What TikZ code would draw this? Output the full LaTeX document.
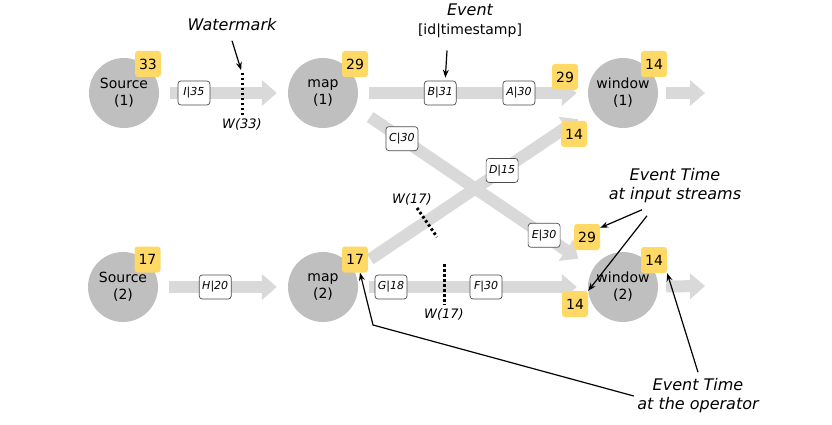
\documentclass[tikz,border=0pt]{standalone}
\usepackage{fontspec}
\setmainfont{DejaVu Sans}
\usetikzlibrary{arrows.meta, calc}

\definecolor{opgray}{HTML}{BFBFBF}
\definecolor{flowgray}{HTML}{D9D9D9}
\definecolor{tsyellow}{HTML}{FFD966}

\begin{document}
\begin{tikzpicture}[x=1pt, y=-1pt, >=Stealth,
	op/.style={circle, fill=opgray, minimum size=70pt, inner sep=0pt, align=center, font=\fontsize{14}{17}\selectfont},
	ts/.style={fill=tsyellow, rounded corners=3pt, minimum size=26pt, inner sep=0pt, font=\fontsize{14}{17}\selectfont},
	evt/.style={draw=black!70, fill=white, text=black, rounded corners=3pt, line width=.7pt, minimum width=32pt, minimum height=24pt, inner sep=1pt, font=\fontsize{11}{13}\selectfont\itshape},
	flow/.style={draw=flowgray, line width=12pt, -{Triangle[length=15pt, width=25pt]}, shorten <=11pt, shorten >=11pt},
	wm/.style={line width=3pt, dash pattern=on 2.5pt off 2.5pt},
	wmlbl/.style={inner sep=2pt, font=\fontsize{13}{15}\selectfont\itshape},
	note/.style={line width=1.2pt, -{Stealth[length=8pt, width=6pt]}},
	lbl/.style={align=center, font=\fontsize{16}{19}\selectfont\itshape}]
%	\draw[gray!30, step=20] (0,0) grid (832,425);
	\useasboundingbox (0,0) rectangle (832,425);

	\node[op] (src1) at (124,93) {Source\\(1)};
	\node[op] (map1) at (323,93) {map\\(1)};
	\node[op] (win1) at (623,93) {window\\(1)};
	\node[op] (src2) at (123,287) {Source\\(2)};
	\node[op] (map2) at (323,287) {map\\(2)};
	\node[op] (win2) at (623,287) {window\\(2)};
	\coordinate (out1) at (705,93);
	\coordinate (out2) at (705,286);

	% streams
	\draw[flow] (src1) -- node[evt, pos=.27] (i35) {I|35} (map1);
	\draw[flow] (map1) -- node[evt, pos=.357] (b31) {B|31} 
	node[evt, pos=.70] (a30) {A|30} (win1);
	\draw[flow, shorten <=57pt, shorten >=54pt] ([yshift=8pt]map1.center) -- 
	node[evt, pos=.263] (c30) {C|30} node[evt, pos=.737] (e30) {E|30} ([yshift=-2pt]win2.center);
	\draw[flow, shorten <=57pt, shorten >=54pt] ([yshift=-4pt]map2.center) -- 
	node[evt, pos=.597] (d15) {D|15} ([yshift=4pt]win1.center);
	\draw[flow] (src2) -- node[evt, pos=.44] (h20) {H|20} (map2);
	\draw[flow] (map2) -- node[evt, pos=.143] (g18) {G|18} 
	node[evt, pos=.557] (f30) {F|30} (win2);
	\draw[flow, shorten >=0pt, shorten <=8pt] (win1) -- (out1);
	\draw[flow, shorten >=0pt, shorten <=8pt] (win2) -- (out2);

	% watermarks
	\coordinate (w33a) at (242,73);
	\coordinate (w33b) at (242,115);
	\draw[wm] (w33a) -- (w33b) node[below, wmlbl] (w33) {W(33)};
	\coordinate (w17a) at (444,264);
	\coordinate (w17b) at (444,305);
	\draw[wm] (w17a) -- (w17b) node[below, wmlbl] (w17low) {W(17)};
	\coordinate (w17c) at (417,208);
	\coordinate (w17d) at (437,237);
	\draw[wm] (w17c) -- (w17d);
	\node[wmlbl] (w17up) at (412,199) {W(17)};

	% event time
	\node[ts] (ts-src1) at ($(src1)+(24,-29)$) {33};
	\node[ts] (ts-map1) at ($(map1)+(32,-29)$) {29};
	\node[ts] (ts-win1) at ($(win1)+(31,-29)$) {14};
	\node[ts] (ts-src2) at ($(src2)+(24.5,-27.5)$) {17};
	\node[ts] (ts-map2) at ($(map2)+(32,-27.5)$) {17};
	\node[ts] (ts-win2) at ($(win2)+(31,-27)$) {14};
	\node[ts] (ts-w1a) at ($(win1)+(-58,-16)$) {29};
	\node[ts] (ts-w1b) at ($(win1)+(-49,41)$) {14};
	\node[ts] (ts-w2a) at ($(win2)+(-36,-50)$) {29};
	\node[ts] (ts-w2b) at ($(win2)+(-48,17)$) {14};

	% labels
	\node[lbl] (wmk) at (232,25) {Watermark};
	\draw[note, shorten >=3pt] ([yshift=-6pt]wmk.south) -- (w33a);
	\node[lbl] (ev) at (470,21) {Event\\\fontsize{14}{17}\selectfont\upshape [id|timestamp]};
	\draw[note, shorten >=3pt] ([xshift=-23pt, yshift=-9pt]ev.south) -- ([xshift=5pt]b31.north);
	\node[lbl] (inp) at (675,186) {Event Time\\at input streams};
	\draw[note] ([xshift=-33pt, yshift=-3pt]inp.south) -- ([yshift=-4pt]ts-w2a.north east);
	\draw[note] ([xshift=-28pt, yshift=-9pt]inp.south) -- (ts-w2b.north east);
	\node[lbl] (opl) at (698,396) {Event Time\\at the operator};
	\coordinate (bend) at (373,325);
	\draw[note] ([yshift=3pt]opl.north) -- (ts-win2.south east);
	\draw[note] (opl.west) -- (bend) -- ([xshift=5pt]ts-map2.south);
\end{tikzpicture}
\end{document}
